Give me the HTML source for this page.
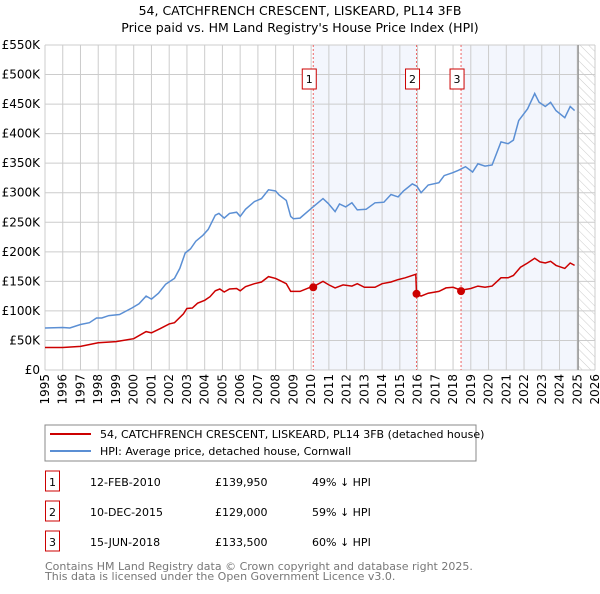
<!DOCTYPE html>
<html><head><meta charset="utf-8"><style>
body{margin:0;background:#fff;font-family:"DejaVu Sans","Liberation Sans",sans-serif;}
svg text{font-family:"DejaVu Sans","Liberation Sans",sans-serif;}
</style></head><body>
<svg id="chart" width="600" height="590" viewBox="0 0 600 590" xmlns="http://www.w3.org/2000/svg">
<text x="300" y="15" text-anchor="middle" font-size="12.5" fill="#000">54, CATCHFRENCH CRESCENT, LISKEARD, PL14 3FB</text>
<text x="300" y="32" text-anchor="middle" font-size="12.5" fill="#000">Price paid vs. HM Land Registry's House Price Index (HPI)</text>
<defs><pattern id="hatch" width="6" height="6" patternUnits="userSpaceOnUse" patternTransform="rotate(-45)"><line x1="0" y1="0" x2="0" y2="6" stroke="#ccc" stroke-width="1"/></pattern></defs>
<g id="bg"></g><g id="grid"></g><g id="marks"></g><g id="axes"></g>
<rect x="45" y="425" width="431" height="36" fill="#fff" stroke="#888" stroke-width="1"/>
<line x1="50" y1="434" x2="91" y2="434" stroke="#cc0000" stroke-width="2"/>
<text x="100" y="438" font-size="11">54, CATCHFRENCH CRESCENT, LISKEARD, PL14 3FB (detached house)</text>
<line x1="50" y1="451" x2="91" y2="451" stroke="#5b8fd4" stroke-width="2"/>
<text x="100" y="455" font-size="11">HPI: Average price, detached house, Cornwall</text>
<g id="table"></g>
<text x="45" y="570" font-size="11" fill="#777">Contains HM Land Registry data © Crown copyright and database right 2025.</text>
<text x="45" y="580" font-size="11" fill="#777">This data is licensed under the Open Government Licence v3.0.</text>
</svg>
<script>
const hpiYears=[1995,1996,1996.4,1997,1997.5,1997.9,1998.2,1998.6,1999.2,1999.9,2000.3,2000.7,2001.0,2001.4,2001.8,2002.3,2002.6,2002.9,2003.2,2003.5,2003.9,2004.2,2004.6,2004.8,2005.1,2005.4,2005.8,2006.0,2006.3,2006.8,2007.2,2007.6,2008.0,2008.2,2008.6,2008.85,2009.0,2009.37,2010.03,2010.67,2010.96,2011.35,2011.6,2011.95,2012.3,2012.6,2013.1,2013.6,2014.1,2014.5,2014.9,2015.2,2015.7,2015.96,2016.2,2016.6,2017.2,2017.5,2018.0,2018.3,2018.7,2019.1,2019.4,2019.8,2020.2,2020.7,2021.1,2021.4,2021.7,2022.2,2022.6,2022.85,2023.2,2023.5,2023.8,2024.3,2024.6,2024.85];
const hpiValues=[71,72,71,77,80,88,88,92,94,105,112,125,120,130,145,155,172,198,205,218,228,238,262,265,257,265,267,260,272,285,290,305,303,296,287,260,256,257,274,290,282,268,281,276,283,271,272,283,284,297,293,303,315,311,300,313,317,329,334,338,344,335,349,345,347,386,383,389,422,442,468,453,446,453,439,427,446,439];
const ppYears=[1995,1996,1997,1998,1999,2000,2000.7,2001.0,2001.5,2002,2002.3,2002.8,2003.0,2003.3,2003.6,2004,2004.3,2004.6,2004.85,2005.1,2005.4,2005.8,2006.0,2006.3,2006.8,2007.2,2007.6,2008.0,2008.2,2008.6,2008.85,2009.37,2010.03,2010.3,2010.67,2011.0,2011.35,2011.8,2012.3,2012.6,2013.0,2013.6,2014.0,2014.5,2014.9,2015.3,2015.9,2015.94,2016.2,2016.6,2017.2,2017.6,2018.0,2018.45,2019.0,2019.4,2019.8,2020.2,2020.7,2021.1,2021.4,2021.8,2022.2,2022.6,2022.9,2023.2,2023.5,2023.8,2024.3,2024.6,2024.85];
const ppValues=[38,38,40,46,48,53,65,63,70,78,80,95,104,105,113,118,124,134,137,132,137,138,134,141,146,149,158,155,152,146,133,133,141,144,150,144,139,144,142,146,140,140,146,149,153,156,162,128,125,130,133,139,140,135,138,142,140,142,156,156,160,174,181,189,183,181,184,177,172,181,177];
const saleLabels=["1","2","3"];
const saleYears=[2010.12,2015.94,2018.45];
const salePrices=[139.95,129,133.5];
const saleDates=["12-FEB-2010","10-DEC-2015","15-JUN-2018"];
const salePriceText=["£139,950","£129,000","£133,500"];
const saleDiffs=["49% ↓ HPI","59% ↓ HPI","60% ↓ HPI"];
const yTicks=[0,50,100,150,200,250,300,350,400,450,500,550];
const yTickLabels=["£0","£50K","£100K","£150K","£200K","£250K","£300K","£350K","£400K","£450K","£500K","£550K"];
const xTicks=[1995,1996,1997,1998,1999,2000,2001,2002,2003,2004,2005,2006,2007,2008,2009,2010,2011,2012,2013,2014,2015,2016,2017,2018,2019,2020,2021,2022,2023,2024,2025,2026];
const dataEnd=2025.05;

const L=45,R=595,T=45,B=370,X0=1995,X1=2026,YMAX=550;
const xs=y=>L+(y-X0)/(X1-X0)*(R-L);
const ys=v=>B-v/YMAX*(B-T);
const NS="http://www.w3.org/2000/svg";
function mk(tag,attrs,parent){const e=document.createElementNS(NS,tag);for(const k in attrs)e.setAttribute(k,attrs[k]);document.getElementById(parent).appendChild(e);return e;}

// shading
let r=mk('rect',{x:xs(saleYears[0]),y:T,width:xs(saleYears[1])-xs(saleYears[0]),height:B-T,fill:'#eef2fc',opacity:0.7},'bg');


r=mk('rect',{x:xs(saleYears[2]),y:T,width:xs(dataEnd)-xs(saleYears[2]),height:B-T,fill:'#eef2fc',opacity:0.7},'bg');


r=mk('rect',{x:xs(dataEnd),y:T,width:R-xs(dataEnd),height:B-T,fill:'url(#hatch)'},'bg');



// grid
yTicks.forEach((v,i)=>{
  const l=mk('line',{x1:L,x2:R,y1:ys(v),y2:ys(v),stroke:'#ccc','stroke-width':1},'grid');
  
  
  const t=mk('text',{x:L-5,y:ys(v)+4,'text-anchor':'end','font-size':12,fill:'#000'},'axes');
  t.textContent=yTickLabels[i];
  
  
});
xTicks.forEach(y=>{
  const l=mk('line',{x1:xs(y),x2:xs(y),y1:T,y2:B,stroke:'#ccc','stroke-width':1},'grid');
  
  
  const t=mk('text',{x:0,y:0,'text-anchor':'end','font-size':12,fill:'#000',transform:`translate(${xs(y)+4},374) rotate(-90)`},'axes');
  t.textContent=y;
  
  
});
let e=mk('line',{x1:xs(dataEnd),x2:xs(dataEnd),y1:T,y2:B,stroke:'#999','stroke-width':1.5},'grid');



// sale vlines
saleYears.forEach((y,i)=>{
  const l=mk('line',{x1:xs(y),x2:xs(y),y1:T,y2:B,stroke:'#e66','stroke-width':1,'stroke-dasharray':'2,2'},'marks');
  
  
});
const pts=(xa,va)=>xa.map((x,i)=>xs(x).toFixed(1)+','+ys(va[i]).toFixed(1)).join(' ');
e=mk('polyline',{points:pts(hpiYears,hpiValues),fill:'none',stroke:'#5b8fd4','stroke-width':1.5},'marks');


e=mk('polyline',{points:pts(ppYears,ppValues),fill:'none',stroke:'#cc0000','stroke-width':1.5},'marks');


saleYears.forEach((y,i)=>{
  const c=mk('circle',{cx:xs(y),cy:ys(salePrices[i]),r:4,fill:'#cc0000'},'marks');
  
  
  const bx=mk('rect',{x:xs(y)-11,y:69,width:14,height:20,fill:'#fff',stroke:'#cc0000','stroke-width':1},'marks');
  
  
  const t=mk('text',{x:xs(y)-4,y:83,'text-anchor':'middle','font-size':11},'marks');
  t.textContent=saleLabels[i];
  
  
  // table
  const ry=483+i*30;
  const tb=mk('rect',{x:45.5,y:ry-12,width:14,height:20,fill:'#fff',stroke:'#cc0000','stroke-width':1},'table');
  
  
  const cells=[[52.5,saleLabels[i],'middle'],[90,saleDates[i],'start'],[215,salePriceText[i],'start'],[312,saleDiffs[i],'start']];
  const names=['table-index','table-date','table-price','table-diff'];
  cells.forEach((c,j)=>{
    const tt=mk('text',{x:c[0],y:ry+3,'text-anchor':c[2],'font-size':11},'table');
    tt.textContent=c[1];
    
    
  });
});
</script>
</body></html>
